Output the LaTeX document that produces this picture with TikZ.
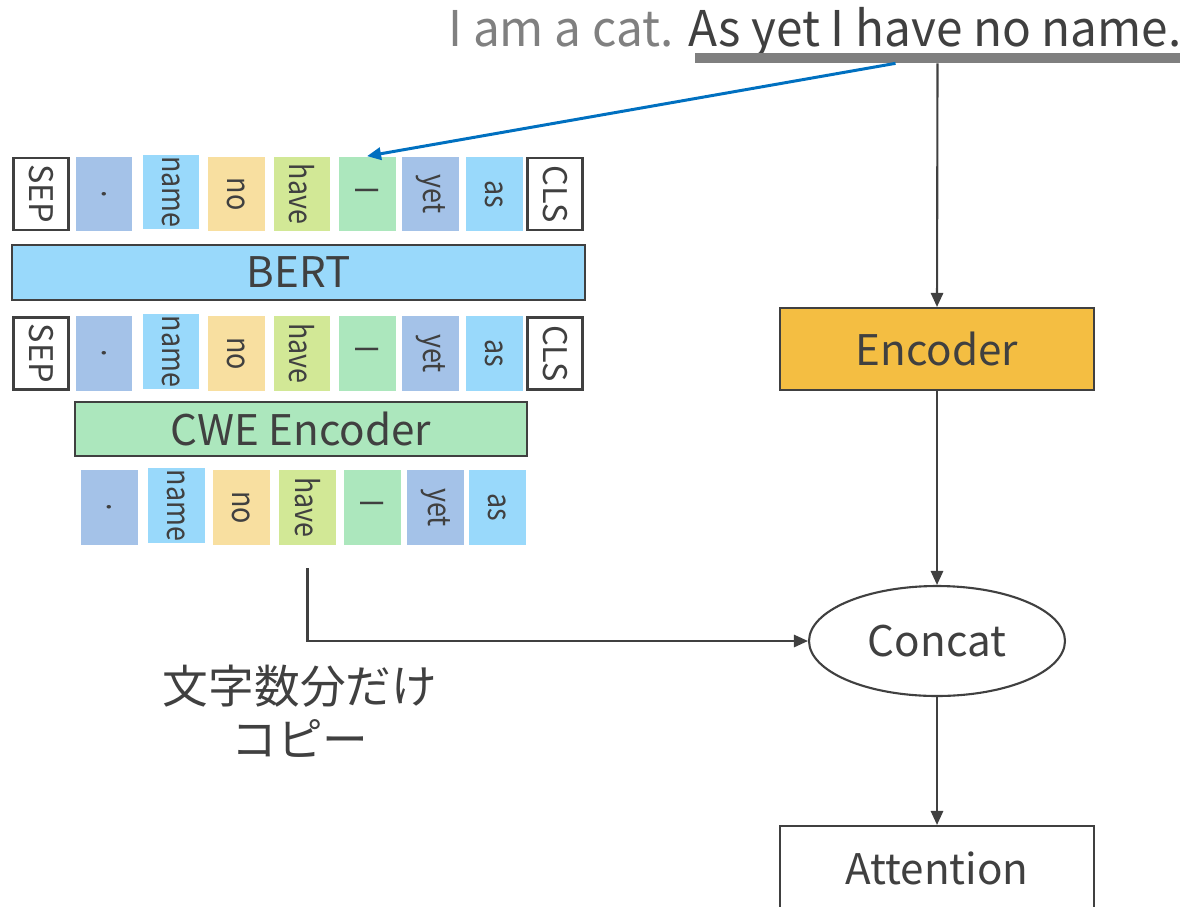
\documentclass[tikz,border=0pt]{standalone}
\usepackage{fontspec}
\setmainfont{Noto Sans CJK JP}
\newfontfamily\tokfont[FakeStretch=0.85]{Noto Sans CJK JP}
\newfontfamily\sentfont[FakeStretch=0.97]{Noto Sans CJK JP}
\usetikzlibrary{arrows.meta,shapes.geometric,calc}

\definecolor{ink}{HTML}{404040}
\definecolor{greytxt}{HTML}{808080}
\definecolor{ulbar}{HTML}{7F7F7F}
\definecolor{tokblue}{HTML}{A4C2E8}
\definecolor{toksky}{HTML}{99D9FB}
\definecolor{toksand}{HTML}{F8DFA0}
\definecolor{toklime}{HTML}{D2E896}
\definecolor{tokmint}{HTML}{ACE7BD}
\definecolor{encfill}{HTML}{F4BE42}
\definecolor{arrowblue}{HTML}{0070C0}

\tikzset{
  tok/.style={rectangle, inner sep=0pt, minimum width=1.14cm, minimum height=1.5cm,
              font=\tokfont\fontsize{18}{20}\selectfont, text=ink},
  specialtok/.style={tok, draw=ink, line width=1.5pt, fill=white,
              minimum width=1.1cm, minimum height=1.44cm,
              font=\fontsize{18.5}{22}\selectfont},
  bar/.style={rectangle, draw=ink, line width=1.5pt, inner sep=0pt,
              font=\fontsize{24}{28}\selectfont, text=ink},
  flowbox/.style={rectangle, draw=ink, line width=1.2pt, inner sep=0pt,
              minimum width=6.28cm, font=\fontsize{24}{28}\selectfont, text=ink},
  conn/.style={draw=ink, line width=1.2pt, -{Triangle[length=8pt,width=7pt]}},
}

\newcommand{\rtxt}[1]{\rotatebox[origin=c]{-90}{#1}}

\begin{document}
\begin{tikzpicture}[x=0.02cm, y=-0.02cm]
  \useasboundingbox (0,0) rectangle (1189,906);
  \clip (0,0) rectangle (1189,906);

  % sentence and the underline marking the second sentence
  \node[anchor=base east, inner sep=0pt, font=\sentfont\fontsize{28}{32}\selectfont] (sent) at (1182,46)
    {\textcolor{greytxt}{I am a cat.} \textcolor{ink}{As yet I have no name.}};
  \node[rectangle, fill=ulbar, inner sep=0pt, minimum width=9.7cm, minimum height=0.2cm] (ul) at (937.5,58) {};
  \coordinate (ulblue) at ($(ul.south)+(-42,0)$);

  % token rows: input to BERT (a) and its output (b)
  \foreach \row/\yc in {a/194, b/353.5} {
    \node[specialtok] (\row-sep) at (41,\yc) {\rtxt{SEP}};
    \node[specialtok] (\row-cls) at (555,\yc) {\rtxt{CLS}};
    \foreach \nm/\xc/\col/\word/\dy in {dot/104/tokblue/./0, name/171/toksky/name/-2,
        no/236.5/toksand/no/0, have/302/toklime/have/0, i/367/tokmint/I/0,
        yet/430.5/tokblue/yet/0, as/494/toksky/as/0} {
      \node[tok, fill=\col] (\row-\nm) at (\xc,\yc+\dy) {\rtxt{\word}};
    }
  }

  % word rows under the CWE encoder
  \foreach \nm/\xc/\col/\word/\dy in {dot/109.5/tokblue/./0, name/176.5/toksky/name/-2,
      no/241.5/toksand/no/0, have/307.5/toklime/have/0, i/372.5/tokmint/I/0,
      yet/435.5/tokblue/yet/0, as/497.5/toksky/as/0} {
    \node[tok, fill=\col] (c-\nm) at (\xc,507.5+\dy) {\rtxt{\word}};
  }

  \node[bar, fill=toksky, minimum width=11.46cm, minimum height=1.1cm] (bert) at (298.5,272.5) {BERT};
  \node[bar, fill=tokmint, minimum width=9.04cm, minimum height=1.08cm] (cwe) at (301,429) {CWE Encoder};

  % right-hand flow
  \node[flowbox, fill=encfill, minimum height=1.64cm] (enc) at (937,349) {Encoder};
  \node[ellipse, draw=ink, line width=1.2pt, fill=white, inner sep=0pt,
        minimum width=5.12cm, minimum height=2.2cm,
        font=\fontsize{24}{28}\selectfont, text=ink] (concat) at (937,641) {Concat};
  \node[flowbox, fill=white, minimum height=1.68cm] (att) at (937,868) {Attention};

  \node[align=center, font=\fontsize{26}{30}\selectfont, text=ink, inner sep=0pt] (copy) at (300,711)
    {文字数分だけ\\コピー};

  % connectors
  \draw[arrowblue, line width=1.7pt, -{Triangle[length=8pt,width=7pt]}] (ulblue) -- (a-i.north);
  \draw[conn] (ul.south) -- (enc.north);
  \draw[conn] (enc.south) -- (concat.north);
  \draw[conn] (concat.south) -- (att.north);
  \coordinate (copystart) at ($(c-have.south)+(0,23)$);
  \draw[conn] (copystart) |- (concat.west);
\end{tikzpicture}
\end{document}
